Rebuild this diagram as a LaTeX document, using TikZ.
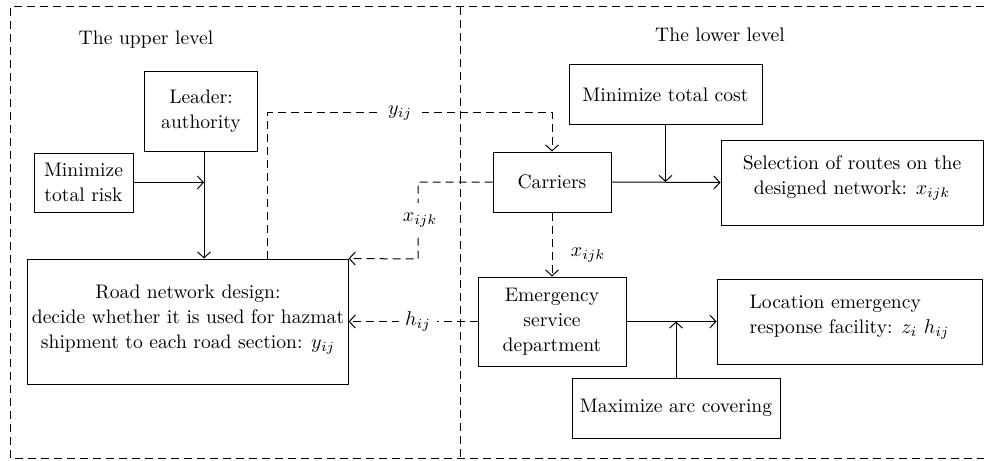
\documentclass[tikz,border=0pt]{standalone}
\usetikzlibrary{arrows.meta,positioning}

\tikzset{
  box/.style={draw, line width=0.5pt, align=center, inner sep=2pt},
  link/.style={line width=0.5pt, -{Straight Barb[length=3pt,width=6.5pt]}},
  dlink/.style={link, dash pattern=on 4pt off 2.5pt},
  frame/.style={line width=0.5pt, dash pattern=on 4pt off 2.5pt},
  lab/.style={fill=white, inner xsep=5pt, inner ysep=5pt},
}

\begin{document}
\begin{tikzpicture}[x=0.5pt,y=-0.5pt,font=\fontsize{9.8}{12.5}\selectfont]
  \useasboundingbox (0,0) rectangle (984,460);
  % the two levels
  \draw[frame] (984,7) -- (10,7) -- (10,458) -- (984,458);
  \draw[frame] (460,7) -- (460,458);
  \node (upper) at (146,40) {The upper level};
  \node (lower) at (720,35) {The lower level};

  % upper level
  \node[box, minimum width=56.5pt, minimum height=39.5pt] (leader) at (201,111.5) {Leader:\\authority};
  \node[box, minimum width=49.5pt, minimum height=29.5pt] (risk) at (83.5,182.5) {Minimize\\total risk};
  \node[box, minimum width=159pt, minimum height=62.5pt] (road) at (188,321.5)
    {Road network design:\\decide whether it is used for hazmat\\shipment to each road section: $y_{ij}$\\[-8pt]\mbox{}};

  % lower level
  \node[box, minimum width=59pt, minimum height=30pt] (carriers) at (552,182) {Carriers};
  \node[box, minimum width=96.5pt, minimum height=29.5pt] (cost) at (665.5,94.5) {Minimize total cost};
  \node[box, minimum width=131pt, minimum height=42.5pt] (select) at (852,182.5)
    {Selection of routes on the\\designed network: $x_{ijk}$\\[-5pt]\mbox{}};
  \node[box, minimum width=74pt, minimum height=44.5pt] (emerg) at (552,321.5) {Emergency\\service\\department};
  \node[box, minimum width=132.5pt, minimum height=42.5pt, align=left] (locate) at (849.5,321.5)
    {Location emergency\\response facility: $z_i\ h_{ij}$\\[-5pt]\mbox{}};
  \node[box, minimum width=104pt, minimum height=30pt] (cover) at (676,408) {Maximize arc covering};

  \coordinate (ybend) at (267,113);
  \coordinate (xbend) at (418,259);

  % solid arrows
  \draw[link] (leader.south -| 204,0) -- (road.north -| 204,0);
  \draw[link] (risk.east) -- (risk.east -| 204,0);
  \draw[link] (carriers.east) -- (select.west);
  \draw[link] (cost.south) -- (cost.south |- carriers.east);
  \draw[link] (emerg.east) -- (locate.west);
  \draw[link] (cover.north) -- (cover.north |- emerg.east);

  % dashed arrows
  \draw[dlink] (road.north -| ybend) -- (ybend) -| (carriers.north);
  \draw[dlink] (carriers.west) -| (xbend) -- (road.north east);
  \draw[dlink] (carriers.south) -- (emerg.north);
  \draw[dlink] (emerg.west) -- (road.east);

  % labels
  \node[lab] (ylab) at (400,113) {$y_{ij}$};
  \node[lab] (xlab) at (420,220) {$x_{ijk}$};
  \node[lab] (xlab2) at (588,255) {$x_{ijk}$};
  \node[lab, inner xsep=3pt] (hlab) at (418,321) {$h_{ij}$};
\end{tikzpicture}
\end{document}
